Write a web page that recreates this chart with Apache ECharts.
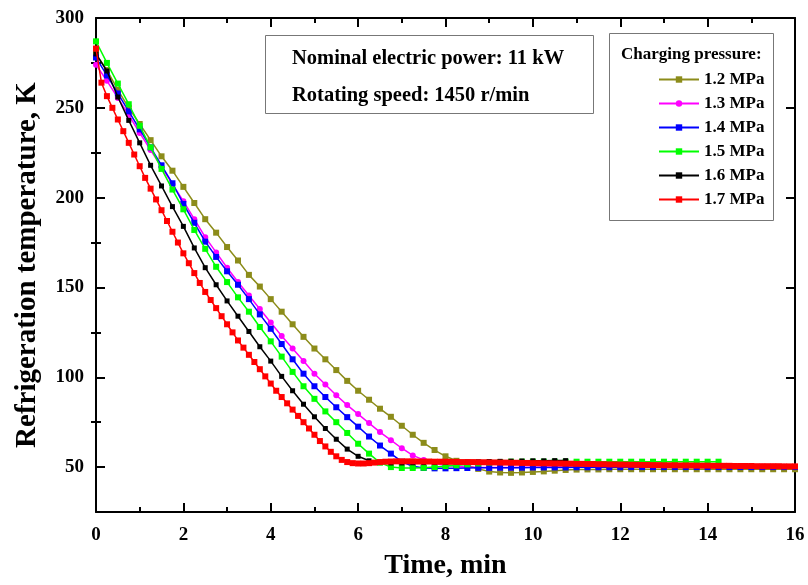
<!DOCTYPE html>
<html><head><meta charset="utf-8">
<script src="https://cdn.jsdelivr.net/npm/echarts@6/dist/echarts.min.js"></script>
<style>html,body{margin:0;padding:0;background:#fff}#c{width:808px;height:585px}</style>
</head><body><div id="c"></div>
<script>
// sampling grids (minutes)
const stepMain = 0.25;
const stepRed = 0.125;
const names = ['1.2 MPa', '1.3 MPa', '1.4 MPa', '1.5 MPa', '1.6 MPa', '1.7 MPa'];
const colors = ['#8c8c1a', '#ff00ff', '#0000ff', '#00ff00', '#000000', '#ff0000'];
const symbols = ['rect', 'circle', 'rect', 'rect', 'rect', 'rect'];
const p12 = [280,271,260,250,241,232,223,215,206,197,188,180.5,172.5,165,157,150.5,143.5,136.5,129.5,122.5,116,110,104,98,92.5,87.5,82.5,78,73,68,63.5,59.5,56,53.5,51,49,47.5,47,46.8,47,47.3,47.6,48,48.4,48.6,48.7,48.7,48.8,48.8,48.8,48.8,48.8,48.8,48.8,48.8,48.8,48.8,48.8,48.8,48.8,48.8,48.8,48.8,48.8,48.8];
const p13 = [274,265,255.5,246,236,226.5,217,207.5,198,188,178,169.5,161,153,145.5,138,130.5,123,116,109,102,96,90,84.5,79.5,74.5,69.5,65,60.5,56.5,54,52,51,50.3,50,49.8,49.8,49.8,49.8,49.9,49.9,50,50,50,50,50,50.1,50.1,50.1,50.1,50.1,50.2,50.2,50.2,50.2,50.2,50.2,50.2,50.2,50.2,50.2,50.2,50.2,50.2,50.2];
const p14 = [278,268,258,248,238,228,218,208,196.5,186,175.5,167,159,151.5,143.5,135,127,118.5,110,102,95,89,83.3,77.8,72.5,67,62,57.5,53,50.5,49.5,49.3,49.3,49.4,49.5,49.6,49.6,49.7,49.7,49.7,49.8,49.8,49.8,49.8,49.9,49.9,49.9,49.9,49.9,50,50,50,50,50,50,50,50,50,50,50,50,50,50,50,50];
const p15 = [287,275,263.5,252,240,228,216,204.5,193.5,182,171.5,161.5,153,144.5,136.5,128,120,111.5,103,95,88,81,75,69,63,57.5,52.5,50,49.5,49.5,49.6,50,50.5,51,51.5,52,52.5,52.8,53,53,53,53,53,53,53,53,53,53,53,53,53,53,53,53,53,53,53,53];
const p16 = [280,270.5,256,243,230.5,218,206.5,195,184,172,161,151.5,142.5,134,125.5,117,109,100.5,92.5,85,78,71.5,65.5,60,56,53.5,52.5,52.3,52.3,52.4,52.5,52.6,52.7,52.8,52.9,53,53.1,53.2,53.3,53.4,53.5,53.5,53.6,53.6];
const p17 = [283,264,256.5,250,243.5,237,230.5,224,217.5,211,205,199,193,187,181,175,169,163.5,158,152.5,147.5,143,138.5,134,129.5,125,120.5,116.5,112.5,108.5,104.5,100.5,96.5,92.5,89,85.5,82,78.5,75,71.5,68,64.5,61.5,58.5,56,54,52.8,52.2,52,52,52.2,52.5,52.8,53,53.1,53.2,53.2,
  53.2,53.2,53.1,53.1,53.1,53.0,53.0,53.0,
  52.9,52.9,52.8,52.8,52.8,52.7,52.7,52.6,
  52.6,52.5,52.5,52.4,52.4,52.3,52.3,52.2,
  52.2,52.1,52.1,52.0,52.0,51.9,51.9,51.8,
  51.8,51.7,51.7,51.6,51.6,51.5,51.5,51.4,
  51.4,51.3,51.3,51.2,51.2,51.1,51.1,51.0,
  51.0,51.0,50.9,50.9,50.9,50.8,50.8,50.8,
  50.7,50.7,50.7,50.7,50.6,50.6,50.6,50.6,
  50.5,50.5,50.5,50.5,50.5,50.4,50.4,50.4];
const yMajor = [50, 100, 150, 200, 250, 300];
const yMinor = [75, 125, 175, 225, 275];
const annotLines = ['Nominal electric power: 11 kW', 'Rotating speed: 1450 r/min'];
const legendTitle = 'Charging pressure:';

const FONT = 'Liberation Serif';
const allData = [p12, p13, p14, p15, p16, p17];
const steps = [stepMain, stepMain, stepMain, stepMain, stepMain, stepRed];
const sizes = [6, 6, 6, 6, 5, 6];

const chart = echarts.init(document.getElementById('c'), null, {renderer: 'canvas'});
const axisLine = {show: true, onZero: false, lineStyle: {color: '#000', width: 2}};
const series = allData.map((arr, k) => ({
  name: names[k], type: 'line',
  data: arr.map((v, i) => [i * steps[k], v]),
  symbol: symbols[k], symbolSize: sizes[k], showAllSymbol: true,
  itemStyle: {color: colors[k]},
  lineStyle: {color: colors[k], width: 1.5},
  emphasis: {disabled: true}, animation: false, z: 2 + k
}));

chart.setOption({
  animation: false,
  grid: {left: 96, right: 13, top: 18, bottom: 73, containLabel: false},
  xAxis: [{
    type: 'value', min: 0, max: 16, interval: 2, position: 'bottom',
    name: 'Time, min', nameLocation: 'middle', nameGap: 40,
    nameTextStyle: {fontFamily: FONT, fontWeight: 'bold', fontSize: 28, color: '#000'},
    axisLine, splitLine: {show: false},
    axisTick: {inside: true, length: 9, lineStyle: {color: '#000', width: 2}},
    minorTick: {show: true, splitNumber: 2, length: 5, lineStyle: {color: '#000', width: 2}},
    axisLabel: {fontFamily: FONT, fontWeight: 'bold', fontSize: 19, color: '#000', margin: 14}
  }, {
    type: 'value', min: 0, max: 16, interval: 2, position: 'top',
    axisLine, splitLine: {show: false}, axisLabel: {show: false},
    axisTick: {inside: true, length: 9, lineStyle: {color: '#000', width: 2}},
    minorTick: {show: true, splitNumber: 2, length: 5, lineStyle: {color: '#000', width: 2}}
  }],
  yAxis: [{
    type: 'value', min: 25, max: 300, position: 'left',
    name: 'Refrigeration temperature, K', nameLocation: 'middle', nameGap: 54,
    nameTextStyle: {fontFamily: FONT, fontWeight: 'bold', fontSize: 29, color: '#000'},
    axisLine, splitLine: {show: false},
    axisTick: {inside: true, length: 9, customValues: yMajor, lineStyle: {color: '#000', width: 2}},
    axisLabel: {customValues: yMajor, fontFamily: FONT, fontWeight: 'bold', fontSize: 19, color: '#000', margin: 12}
  }, {
    type: 'value', min: 25, max: 300, position: 'right',
    axisLine, splitLine: {show: false}, axisLabel: {show: false},
    axisTick: {inside: true, length: 9, customValues: yMajor, lineStyle: {color: '#000', width: 2}}
  }, {
    type: 'value', min: 25, max: 300, position: 'left',
    axisLine: {show: false}, splitLine: {show: false}, axisLabel: {show: false},
    axisTick: {inside: true, length: 5, customValues: yMinor, lineStyle: {color: '#000', width: 2}}
  }, {
    type: 'value', min: 25, max: 300, position: 'right',
    axisLine: {show: false}, splitLine: {show: false}, axisLabel: {show: false},
    axisTick: {inside: true, length: 5, customValues: yMinor, lineStyle: {color: '#000', width: 2}}
  }],
  legend: {
    orient: 'vertical', left: 658, top: 71, padding: 0, itemWidth: 40, itemHeight: 8, itemGap: 7,
    data: names, selectedMode: false,
    textStyle: {fontFamily: FONT, fontWeight: 'bold', fontSize: 17, color: '#000'}
  },
  graphic: [
    {type: 'rect', shape: {x: 265.5, y: 35.5, width: 328, height: 78}, style: {fill: '#fff', stroke: '#777', lineWidth: 1}, z: 10},
    {type: 'text', x: 292, y: 59, style: {text: annotLines[0], font: 'bold 20.5px "Liberation Serif"', fill: '#000', textVerticalAlign: 'middle'}, z: 11},
    {type: 'text', x: 292, y: 96, style: {text: annotLines[1], font: 'bold 20.5px "Liberation Serif"', fill: '#000', textVerticalAlign: 'middle'}, z: 11},
    {type: 'rect', shape: {x: 609.5, y: 33.5, width: 164, height: 187}, style: {fill: '#fff', stroke: '#777', lineWidth: 1}, z: 0},
    {type: 'text', x: 621, y: 55, style: {text: legendTitle, font: 'bold 17px "Liberation Serif"', fill: '#000', textVerticalAlign: 'middle'}, z: 11}
  ],
  series
});
</script></body></html>
